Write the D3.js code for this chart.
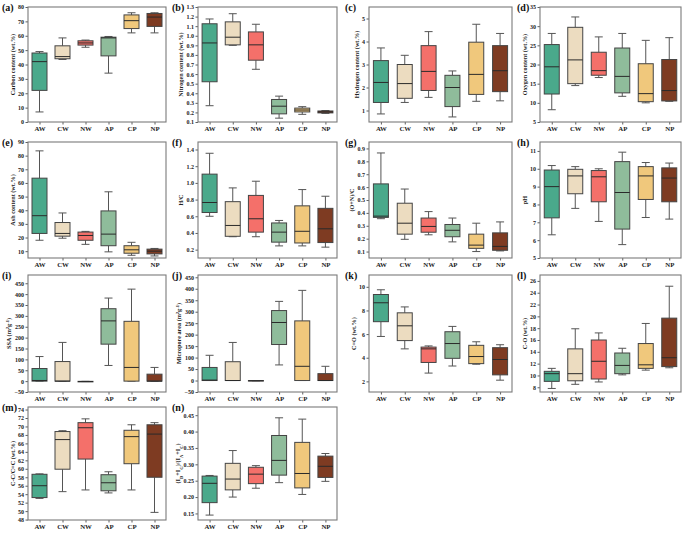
<!DOCTYPE html>
<html><head><meta charset="utf-8">
<script src="https://cdn.jsdelivr.net/npm/d3@7"></script>
<style>body{margin:0;background:#fff}svg{display:block}</style>
</head><body>
<script>
// ---- data: [lower whisker, Q1, median, Q3, upper whisker] per category ----
const categories = ["AW","CW","NW","AP","CP","NP"];
const fills = ["#4aa98b","#ecdcc0","#f4706a","#8fbc9b","#f0c87c","#7e3b22"];

const carbon   = [[7,22,42,48,49],[43.5,44,45.5,53,58.5],[52,53.5,55,56.5,57],[34,46,58.5,59,59.5],[62,65,70.5,74.5,76],[62,66.5,73,75.5,76]];
const nitrogen = [[0.27,0.52,0.925,1.125,1.175],[0.9,0.905,0.985,1.145,1.23],[0.65,0.745,0.905,1.04,1.12],[0.14,0.185,0.265,0.335,0.37],[0.18,0.205,0.225,0.245,0.26],[0.19,0.195,0.205,0.215,0.22]];
const hydrogen = [[0.85,1.35,2.22,3.17,3.72],[1.35,1.53,2.17,3.0,3.4],[1.57,1.87,2.7,3.82,4.43],[0.72,1.17,2.0,2.53,2.72],[1.4,1.7,2.57,3.97,4.75],[1.42,1.82,2.73,3.82,4.35]];
const oxygen   = [[8.2,12.3,19.4,25.2,28.1],[14.5,15,21.2,29.7,32.4],[16.6,17.2,18.4,23.2,27.2],[11.7,12.6,16.9,24.3,28.1],[10,10.3,12.4,20.2,26.3],[10.4,10.5,13.2,21.3,27]];
const ash      = [[18,23,36,63.5,83.5],[19.5,21,23,31,38],[15,18,21.5,24,24.5],[9.5,14,22.5,39.5,53.5],[7,8.5,11,14,16.5],[6.5,8,10,11.5,12]];
const hc       = [[0.6,0.645,0.765,1.105,1.355],[0.355,0.36,0.49,0.775,0.94],[0.355,0.41,0.57,0.85,1.02],[0.245,0.29,0.41,0.52,0.55],[0.245,0.28,0.42,0.725,0.92],[0.23,0.285,0.45,0.695,0.84]];
const onc      = [[0.355,0.365,0.375,0.625,0.865],[0.195,0.235,0.32,0.475,0.585],[0.23,0.25,0.295,0.36,0.41],[0.175,0.215,0.265,0.31,0.36],[0.1,0.125,0.15,0.235,0.32],[0.105,0.11,0.14,0.245,0.33]];
const ph       = [[6.3,7.25,9.0,9.93,10.18],[7.78,8.6,9.6,9.97,10.12],[7.05,8.15,9.55,9.9,10.0],[5.75,6.62,8.67,10.4,10.93],[7.27,8.28,9.6,10.12,10.35],[7.18,8.15,9.48,10.05,10.32]];
const ssa      = [[0,0,3,58,113],[0,0,0,90,178],[-2,-2,-2,-1,-1],[72,170,277,333,382],[0,0,63,275,423],[0,0,0,32,63]];
const micro    = [[0,0,2,57,110],[0,0,0,82,166],[-1,-1,-1,0,0],[68,157,253,305,345],[0,0,62,260,393],[0,0,0,30,62]];
const cdo      = [[5.8,7.05,8.65,9.35,9.75],[4.75,5.45,6.7,7.8,8.3],[2.7,3.6,4.75,4.9,5.0],[3.3,3.95,5.2,6.2,6.65],[3.45,3.5,4.1,5.05,5.35],[2.1,2.55,3.85,4.85,5.1]];
const cso      = [[7.8,9,10.3,10.7,11.2],[8.5,9.1,10.3,14.5,17.9],[8.9,9.4,12.4,16.0,17.2],[10.1,10.3,11.7,13.8,14.6],[10.9,11.2,11.8,15.4,18.8],[11.3,11.5,13,19.7,25.1]];
const ccc      = [[53,53.2,56,58.7,58.8],[54.6,59.9,66.9,68.8,69],[55,62.3,69.7,70.9,71.8],[54.3,54.8,56.7,58.6,59.3],[55,61.2,67.6,69.1,70.4],[49.7,58,68.2,70.4,70.9]];
const raman    = [[0.145,0.183,0.242,0.264,0.266],[0.2,0.222,0.255,0.303,0.342],[0.227,0.241,0.27,0.291,0.296],[0.244,0.267,0.312,0.388,0.442],[0.208,0.228,0.272,0.367,0.438],[0.248,0.26,0.294,0.325,0.333]];

// tick values per panel
const ticksA = [0,10,20,30,40,50,60,70,80];
const ticksB = [0.1,0.2,0.3,0.4,0.5,0.6,0.7,0.8,0.9,1.0,1.1,1.2,1.3];
const ticksC = [1,2,3,4,5];
const ticksD = [5,10,15,20,25,30,35];
const ticksE = [10,20,30,40,50,60,70,80,90];
const ticksF = [0.2,0.4,0.6,0.8,1.0,1.2,1.4];
const ticksG = [0.1,0.2,0.3,0.4,0.5,0.6,0.7,0.8,0.9];
const ticksH = [5,6,7,8,9,10,11];
const ticksI = [-50,0,50,100,150,200,250,300,350,400,450];
const ticksK = [2,4,6,8,10];
const ticksL = [8,10,12,14,16,18,20,22,24,26];
const ticksM = [48,50,52,54,56,58,60,62,64,66,68,70,72,74];
const ticksN = [0.15,0.20,0.25,0.30,0.35,0.40,0.45];

// ---- layout ----
const colL = [28,198,369,540], colR = [166,337,512,681];
const rowT = [7,142,275,407], rowB = [122,258,392,520];
const labX = [2,172,345,517];

const panels = [
 {id:"(a)", data:carbon,  dom:[0,80],      ticks:ticksA, fmt:d3.format("d"),   title:[["Carbon content (wt.%)"]]},
 {id:"(b)", data:nitrogen,dom:[0.1,1.3],   ticks:ticksB, fmt:d3.format(".1f"), title:[["Nitrogen content (wt.%)"]]},
 {id:"(c)", data:hydrogen,dom:[0.5,5.5],   ticks:ticksC, fmt:d3.format("d"),   title:[["Hydrogen content (wt.%)"]]},
 {id:"(d)", data:oxygen,  dom:[5,35],      ticks:ticksD, fmt:d3.format("d"),   title:[["Oxygen content (wt.%)"]]},
 {id:"(e)", data:ash,     dom:[5,90],      ticks:ticksE, fmt:d3.format("d"),   title:[["Ash content (wt.%)"]]},
 {id:"(f)", data:hc,      dom:[0.1,1.49],  ticks:ticksF, fmt:d3.format(".1f"), title:[["H/C"]]},
 {id:"(g)", data:onc,     dom:[0.05,0.95], ticks:ticksG, fmt:d3.format(".1f"), title:[["(O+N)/C"]]},
 {id:"(h)", data:ph,      dom:[5,11.5],    ticks:ticksH, fmt:d3.format("d"),   title:[["pH"]]},
 {id:"(i)", data:ssa,     dom:[-50,488],   ticks:ticksI, fmt:d3.format("d"),   title:[["SSA (m"],["2","sup"],["g"],["-1","sup"],[")"]]},
 {id:"(j)", data:micro,   dom:[-50,460],   ticks:ticksI, fmt:d3.format("d"),   title:[["Micropore area (m"],["2","sup"],["g"],["-1","sup"],[")"]]},
 {id:"(k)", data:cdo,     dom:[1.1,11],    ticks:ticksK, fmt:d3.format("d"),   title:[["C=O (wt.%)"]]},
 {id:"(l)", data:cso,     dom:[7.2,27],    ticks:ticksL, fmt:d3.format("d"),   title:[["C-O (wt.%)"]]},
 {id:"(m)", data:ccc,     dom:[47.9,74.6], ticks:ticksM, fmt:d3.format("d"),   title:[["C-C/C=C (wt.%)"]]},
 {id:"(n)", data:raman,   dom:[0.13,0.475],ticks:ticksN, fmt:d3.format(".2f"), title:[["(I"],["D","sub"],["+I"],["G","sub"],[")/(I"],["A","sub"],["+I"],["C","sub"],[")"]]}
];

const FONT = "'Liberation Serif','Times New Roman',serif";
const svg = d3.select("body").append("svg").attr("width",685).attr("height",533)
  .style("font-family",FONT);

panels.forEach((p,k)=>{
  const c = k%4, r = Math.floor(k/4);
  const L = colL[c], R = colR[c], T = rowT[r], B = rowB[r];
  const x = d3.scalePoint().domain(categories).range([L,R]).padding(0.5);
  const y = d3.scaleLinear().domain(p.dom).range([B,T]);
  const g = svg.append("g");

  // axes
  const ay = g.append("g").attr("transform",`translate(${L},0)`)
    .call(d3.axisLeft(y).tickValues(p.ticks).tickFormat(p.fmt).tickSize(2.5).tickPadding(1.5));
  const ax = g.append("g").attr("transform",`translate(0,${B})`)
    .call(d3.axisBottom(x).tickSize(2.5).tickPadding(1.5));
  [ay,ax].forEach(a=>{
    a.select(".domain").remove();
    a.selectAll(".tick line").attr("stroke","#333").attr("stroke-width",0.8);
    a.selectAll("text").attr("fill","#222").style("font-family",FONT).style("font-weight","bold");
  });
  ay.selectAll("text").style("font-size","6px");
  ax.selectAll("text").style("font-size","6.8px");

  // boxes
  const bw = 15, cw = 8;
  p.data.forEach((d,i)=>{
    const cx = x(categories[i]);
    const [lo,q1,md,q3,hi] = d;
    const bg = g.append("g");
    bg.append("line").attr("x1",cx).attr("x2",cx).attr("y1",y(lo)).attr("y2",y(q1)).attr("stroke","#555").attr("stroke-width",1);
    bg.append("line").attr("x1",cx).attr("x2",cx).attr("y1",y(q3)).attr("y2",y(hi)).attr("stroke","#555").attr("stroke-width",1);
    bg.append("line").attr("x1",cx-cw/2).attr("x2",cx+cw/2).attr("y1",y(lo)).attr("y2",y(lo)).attr("stroke","#555").attr("stroke-width",1);
    bg.append("line").attr("x1",cx-cw/2).attr("x2",cx+cw/2).attr("y1",y(hi)).attr("y2",y(hi)).attr("stroke","#555").attr("stroke-width",1);
    bg.append("rect").attr("x",cx-bw/2).attr("width",bw)
      .attr("y",y(q3)).attr("height",Math.max(0.5,y(q1)-y(q3)))
      .attr("fill",fills[i]).attr("stroke","#444").attr("stroke-width",1);
    bg.append("line").attr("x1",cx-bw/2).attr("x2",cx+bw/2).attr("y1",y(md)).attr("y2",y(md)).attr("stroke","#2a2a2a").attr("stroke-width",1);
  });

  // frame
  g.append("rect").attr("x",L).attr("y",T).attr("width",R-L).attr("height",B-T)
    .attr("fill","none").attr("stroke","#7a7a7a").attr("stroke-width",1.1);

  // y title
  let maxW = 0;
  ay.selectAll("text").each(function(){ maxW = Math.max(maxW,this.getComputedTextLength()); });
  const tx = L - maxW - 7.5, ty = (T+B)/2;
  const t = g.append("text").attr("transform",`translate(${tx},${ty}) rotate(-90)`)
    .attr("text-anchor","middle").attr("fill","#222")
    .style("font-size","6.2px").style("font-weight","bold");
  p.title.forEach(([s,kind])=>{
    const ts = t.append("tspan").text(s);
    if(kind==="sup") ts.attr("baseline-shift","super").style("font-size","4.5px");
    if(kind==="sub") ts.attr("baseline-shift","sub").style("font-size","4.5px");
  });

  // panel label
  svg.append("text").attr("x",labX[c]).attr("y",T+4).text(p.id)
    .attr("fill","#111").style("font-size","10px").style("font-weight","bold");
});
</script>
</body></html>
